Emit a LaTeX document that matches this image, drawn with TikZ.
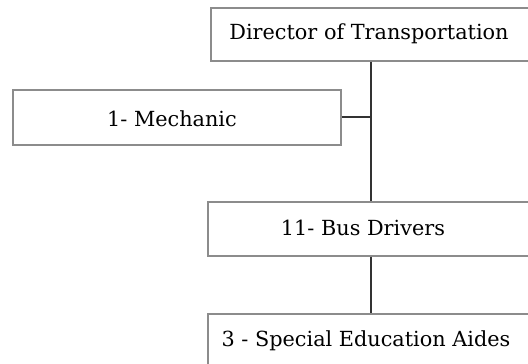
\documentclass[tikz,border=0pt]{standalone}
\usepackage{fontspec}
\setmainfont{DejaVu Serif}
\begin{document}
\begin{tikzpicture}[x=1pt,y=-1pt,
  box/.style={draw=boxgray,line width=1.6pt,fill=white,rectangle,inner sep=0pt,anchor=north west},
  lbl/.style={font=\fontsize{20.8}{22}\selectfont,text=black,inner sep=0pt,anchor=base},
  conn/.style={draw=black!80,line width=1.8pt}]
\definecolor{boxgray}{HTML}{8C8C8C}
\useasboundingbox (0,0) rectangle (528,364);
\begin{scope}
\clip (0,0) rectangle (528,364);
\node[box,minimum width=340pt,minimum height=53pt] (dir) at (210,7) {};
\node[box,minimum width=328pt,minimum height=55pt] (mech) at (12,89) {};
\node[box,minimum width=340pt,minimum height=54pt] (bus) at (207,201) {};
\node[box,minimum width=340pt,minimum height=70pt] (sped) at (207,313) {};
\node[lbl] (tdir) at (369,39) {Director of Transportation};
\node[lbl] (tmech) at (172,126) {1- Mechanic};
\node[lbl] (tbus) at (363,235) {11- Bus Drivers};
\node[lbl] (tsped) at (366,346) {3 - Special Education Aides};
\coordinate (j) at (371,117);
\draw[conn] (dir.south -| j) -- (bus.north -| j);
\draw[conn] (mech.east) -- (mech.east -| j);
\draw[conn] (bus.south -| j) -- (sped.north -| j);
\end{scope}
\end{tikzpicture}
\end{document}
